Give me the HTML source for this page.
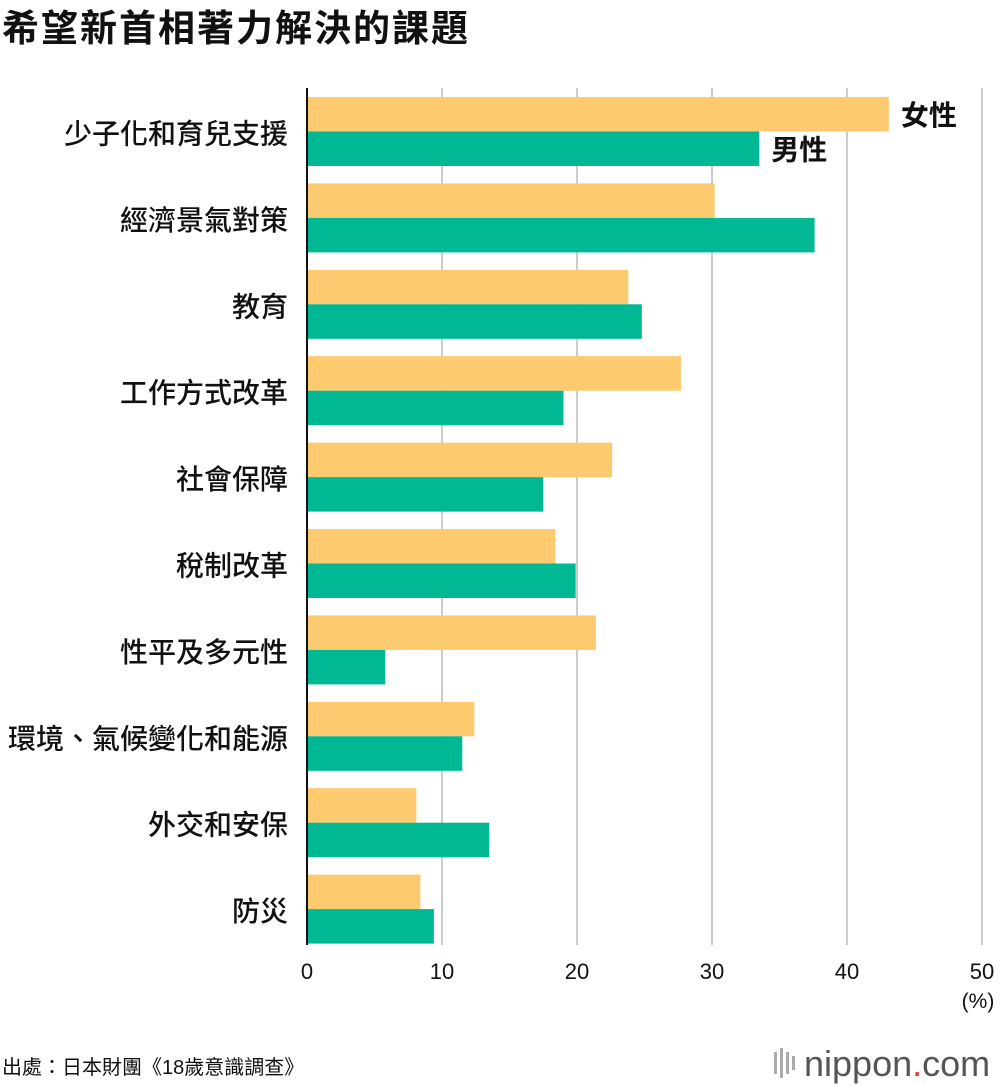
<!DOCTYPE html>
<html><head><meta charset="utf-8">
<style>
body{margin:0;background:#fff;font-family:"Liberation Sans","Noto Sans CJK TC",sans-serif;}
#wrap{position:relative;width:1000px;height:1086px;overflow:hidden;}
</style></head>
<body>
<div id="wrap">
<svg id="chart" width="1000" height="1086" xmlns="http://www.w3.org/2000/svg">
<text x="2" y="41" font-size="37" font-weight="bold" letter-spacing="2" fill="#111" font-family="Liberation Sans, Noto Sans CJK TC, sans-serif">希望新首相著力解決的課題</text>
<g id="grid"></g>
<g id="bars"></g>
<g id="labels"></g>
<line x1="307" y1="88" x2="307" y2="945" stroke="#111" stroke-width="2"/>
<text x="978" y="1008" font-size="21" text-anchor="middle" fill="#111">(%)</text>
<text x="2" y="1074" font-size="20" fill="#111" font-family="Liberation Sans, Noto Sans CJK TC, sans-serif">出處：日本財團《18歲意識調查》</text>
<g>
<rect x="774" y="1052" width="3" height="22" fill="#aaa"/><rect x="780" y="1048" width="3" height="30" fill="#aaa"/><rect x="786" y="1052" width="3" height="22" fill="#aaa"/><rect x="792" y="1056" width="3" height="14" fill="#aaa"/>
<text x="804" y="1076" font-size="36" fill="#555">nippon<tspan fill="#e33">.</tspan>com</text>
</g>
</svg>
</div>
<script>
const categories=["少子化和育兒支援","經濟景氣對策","教育","工作方式改革","社會保障","稅制改革","性平及多元性","環境、氣候變化和能源","外交和安保","防災"];
const femaleValues=[43.1,30.2,23.8,27.7,22.6,18.4,21.4,12.4,8.1,8.4];
const maleValues=[33.5,37.6,24.8,19.0,17.5,19.9,5.8,11.5,13.5,9.4];
const tickValues=[0,10,20,30,40,50];
const NS="http://www.w3.org/2000/svg";
const x0=307,x1=982,maxV=50,top0=97,groupH=86.4,barH=34.5;
const xs=v=>x0+(v/maxV)*(x1-x0);
const ys=i=>top0+i*groupH;
function mk(tag,attrs,parent){const e=document.createElementNS(NS,tag);for(const k in attrs)e.setAttribute(k,attrs[k]);parent.appendChild(e);return e;}
const grid=document.getElementById('grid'),bars=document.getElementById('bars'),labels=document.getElementById('labels');
tickValues.forEach(t=>{
  if(t>0){const l=mk('line',{x1:xs(t),x2:xs(t),y1:88,y2:945,stroke:'#ccc','stroke-width':2},grid);
  
  }
  const tx=mk('text',{x:xs(t),y:979,'font-size':22,'text-anchor':'middle',fill:'#111'},grid);
  tx.textContent=t;
  
  
});
categories.forEach((c,i)=>{
  const f=mk('rect',{x:x0,y:ys(i),width:xs(femaleValues[i])-x0,height:barH,fill:'#fdca70'},bars);
  
  
  const m=mk('rect',{x:x0,y:ys(i)+barH,width:xs(maleValues[i])-x0,height:barH,fill:'#00b894'},bars);
  
  
  const t=mk('text',{x:288,y:ys(i)+barH+12,'font-size':28,'font-weight':500,'text-anchor':'end',fill:'#111','font-family':'Liberation Sans, Noto Sans CJK TC, sans-serif'},labels);
  t.textContent=c;
  
  
});
const lf=mk('text',{x:xs(femaleValues[0])+12,y:ys(0)+28,'font-size':28,'font-weight':'bold',fill:'#111','font-family':'Liberation Sans, Noto Sans CJK TC, sans-serif'},labels);
lf.textContent='女性';


const lm=mk('text',{x:xs(maleValues[0])+12,y:ys(0)+barH+28,'font-size':28,'font-weight':'bold',fill:'#111','font-family':'Liberation Sans, Noto Sans CJK TC, sans-serif'},labels);
lm.textContent='男性';


</script>
</body></html>
